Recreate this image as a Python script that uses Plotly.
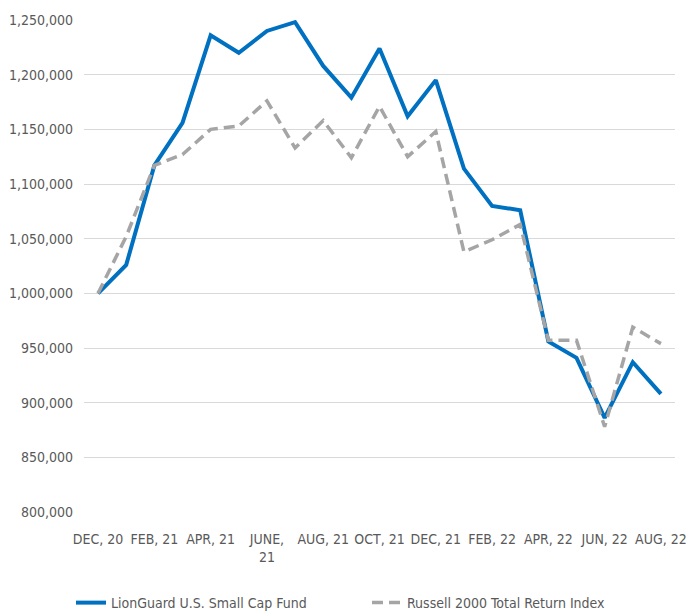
import plotly.graph_objects as go

months = ["Dec 20", "Jan 21", "Feb 21", "Mar 21", "Apr 21", "May 21", "Jun 21",
          "Jul 21", "Aug 21", "Sep 21", "Oct 21", "Nov 21", "Dec 21", "Jan 22",
          "Feb 22", "Mar 22", "Apr 22", "May 22", "Jun 22", "Jul 22", "Aug 22"]

fund = [1000000, 1026000, 1117000, 1156000, 1236000, 1220000, 1240000,
        1248000, 1208000, 1179000, 1224000, 1162000, 1195000, 1114000,
        1080000, 1076000, 956000, 941000, 886000, 937000, 908000]

index = [1000000, 1052000, 1117000, 1127000, 1150000, 1153000, 1176000,
         1133000, 1158000, 1124000, 1171000, 1125000, 1148000, 1038000,
         1049000, 1063000, 957000, 957000, 878000, 969000, 954000]

tick_months = ["Dec 20", "Feb 21", "Apr 21", "Jun 21", "Aug 21", "Oct 21",
               "Dec 21", "Feb 22", "Apr 22", "Jun 22", "Aug 22"]
tick_labels = ["DEC, 20", "FEB, 21", "APR, 21", "JUNE,<br>21", "AUG, 21",
               "OCT, 21", "DEC, 21", "FEB, 22", "APR, 22", "JUN, 22", "AUG, 22"]

y_ticks = [800000, 850000, 900000, 950000, 1000000, 1050000, 1100000,
           1150000, 1200000, 1250000]

FONT = "DejaVu Sans Condensed, sans-serif"

fig = go.Figure()
fig.add_trace(go.Scatter(
    x=months, y=fund, mode="lines", name="LionGuard U.S. Small Cap Fund",
    line=dict(color="#0070C0", width=4)))
fig.add_trace(go.Scatter(
    x=months, y=index, mode="lines", name="Russell 2000 Total Return Index",
    line=dict(color="#A5A5A5", width=3.5, dash="11px,6px")))

fig.update_layout(
    width=686, height=614,
    margin=dict(l=84, r=11, t=20, b=102, autoexpand=False),
    plot_bgcolor="white", paper_bgcolor="white",
    font=dict(family=FONT, size=14, color="#595959"),
    showlegend=True,
    legend=dict(orientation="h", x=-0.022, xanchor="left", y=-0.185, yanchor="middle",
                entrywidth=251, font=dict(family=FONT, size=14, color="#595959"),
                bgcolor="rgba(0,0,0,0)"),
    xaxis=dict(type="category", categoryorder="array", categoryarray=months,
               range=[-0.5, 20.5], showgrid=False, zeroline=False, showline=False,
               tickmode="array", tickvals=tick_months, ticktext=tick_labels,
               ticks="", ticklabelstandoff=17, tickangle=0, automargin=False),
    yaxis=dict(range=[800000, 1250000], tickmode="array", tickvals=y_ticks,
               tickformat=",.0f", showgrid=True, gridcolor="#D9D9D9", gridwidth=1,
               zeroline=False, showline=False, ticks="", ticklabelstandoff=10,
               automargin=False),
)

fig.write_html("out.html", config={"displayModeBar": False},
               post_script="document.body.style.margin='0px';")
